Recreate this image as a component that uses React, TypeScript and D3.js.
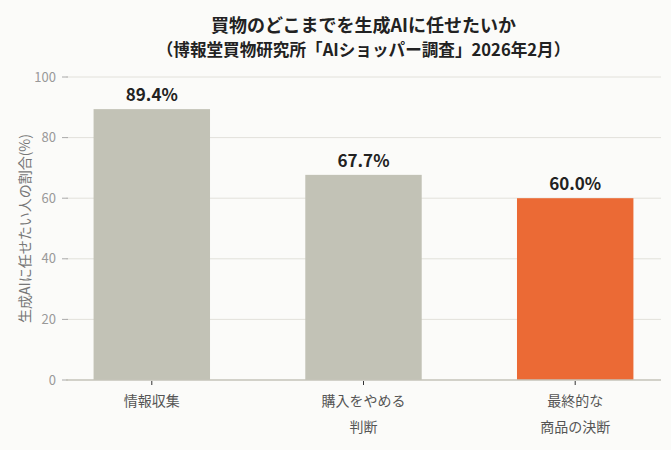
import React from "react";
import * as d3 from "d3";

const categories: string[][] = [["情報収集"], ["購入をやめる", "判断"], ["最終的な", "商品の決断"]];
const values: number[] = [89.4, 67.7, 60.0];
const highlight: boolean[] = [false, false, true];
const yTicks: number[] = [0, 20, 40, 60, 80, 100];
const titleLines: string[] = ["買物のどこまでを生成AIに任せたいか", "（博報堂買物研究所「AIショッパー調査」2026年2月）"];
const titleSizes: number[] = [18, 16.6];
const yLabel = "生成AIに任せたい人の割合(%)";

const W = 671;
const H = 450;
const left = 64;
const right = 661;
const top = 77;
const bottom = 380;
const FONT = "'Noto Sans CJK JP', 'Noto Sans', sans-serif";

export default function App() {
  const x = d3
    .scaleBand<number>()
    .domain(d3.range(values.length))
    .range([left + 1, right + 1])
    .paddingInner(0.45)
    .paddingOuter(0.135);
  const y = d3.scaleLinear().domain([0, 100]).range([bottom, top]);
  const cx = (left + right) / 2 + 1;

  return (
    <svg width={W} height={H} style={{ position: "absolute", left: 0, top: 0, background: "#fbfbf9" }} fontFamily={FONT}>
      <rect x={0} y={0} width={W} height={H} fill="#fbfbf9" />
      {titleLines.map((t, i) => (
        <text key={i} x={cx} y={32 + i * 24} textAnchor="middle" fontSize={titleSizes[i]} fontWeight="bold" fill="#222">
          {t}
        </text>
      ))}
      {yTicks.map((t) => (
        <g key={t}>
          {t > 0 && <line x1={left + 2} x2={right} y1={y(t)} y2={y(t)} stroke="#e2e1db" strokeWidth={1} />}
          <line x1={left - 2} x2={left + 4} y1={y(t)} y2={y(t)} stroke="#aaa" strokeWidth={1} />
          <text x={left - 8} y={y(t)} dy="0.35em" textAnchor="end" fontSize={13} fill="#999">
            {t}
          </text>
        </g>
      ))}
      <text
        transform={`translate(25,${(top + bottom) / 2}) rotate(-90)`}
        textAnchor="middle"
        dy="0.35em"
        fontSize={14}
        fill="#777"
      >
        {yLabel}
      </text>
      {values.map((v, i) => (
        <g key={i}>
          <rect
            x={x(i)!}
            y={y(v)}
            width={x.bandwidth()}
            height={bottom - y(v)}
            fill={highlight[i] ? "#eb6a35" : "#c2c2b6"}
          />
          <text
            x={x(i)! + x.bandwidth() / 2}
            y={y(v) - 8}
            textAnchor="middle"
            fontSize={17}
            fontWeight="bold"
            fill="#222"
          >
            {v.toFixed(1)}%
          </text>
        </g>
      ))}
      <line x1={left + 2} x2={right} y1={bottom} y2={bottom} stroke="#c4c3b8" strokeWidth={1.5} />
      {categories.map((lines, i) => {
        const c = x(i)! + x.bandwidth() / 2;
        return (
          <g key={i}>
            <line x1={c} x2={c} y1={bottom + 1} y2={bottom + 5} stroke="#333" strokeWidth={1} />
            {lines.map((l, j) => (
              <text key={j} x={c} y={406 + j * 26} textAnchor="middle" fontSize={14} fill="#555">
                {l}
              </text>
            ))}
          </g>
        );
      })}
    </svg>
  );
}
